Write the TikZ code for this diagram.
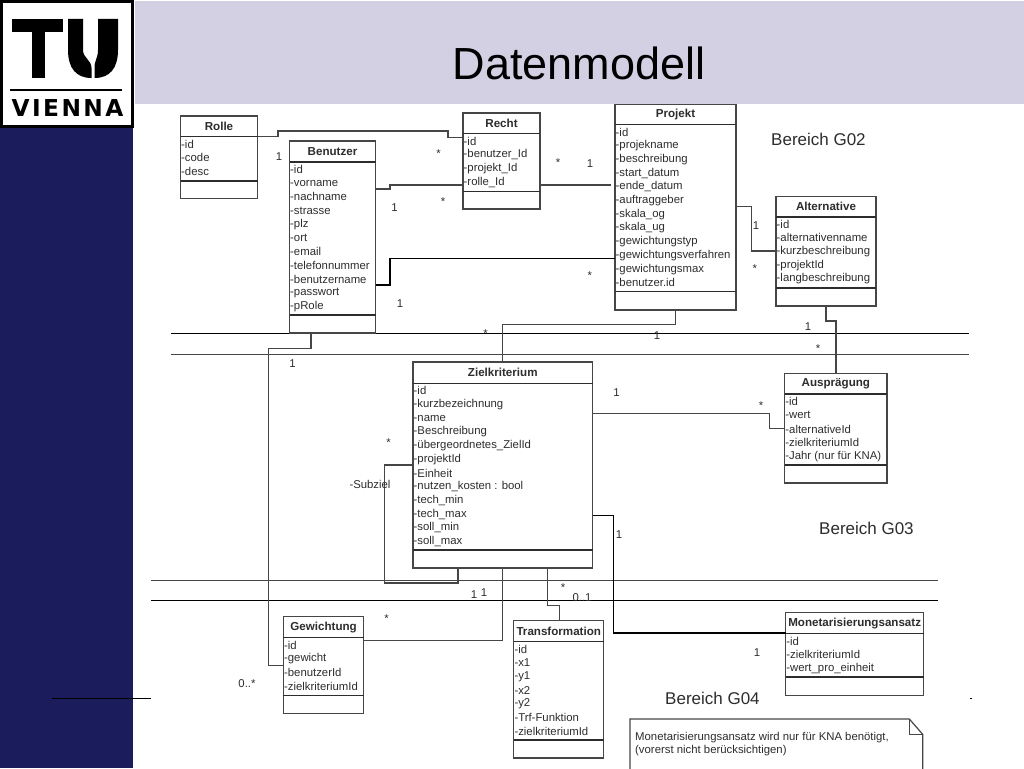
\documentclass[tikz,border=0pt]{standalone}
\usepackage{fontspec}
\setmainfont{Liberation Sans}
\newfontfamily\logofont{DejaVu Sans}
\definecolor{band}{RGB}{211,208,228}
\definecolor{navy}{RGB}{27,28,92}
\definecolor{ink}{RGB}{45,45,45}
\definecolor{wire}{RGB}{70,70,70}
\newcommand{\fs}[1]{\fontsize{#1}{#1}\selectfont}
\tikzset{
  x=1pt,y=-1pt,
  umlbox/.style={draw=wire,line width=1.2pt,fill=white,inner sep=0pt,outer sep=0pt,rectangle},
  sepline/.style={draw=ink,line width=1.1pt},
  classtitle/.style={inner sep=0pt,font=\fs{11.6}\bfseries,text=ink,anchor=center},
  attr/.style={inner sep=0pt,font=\fs{11.35},text=ink,anchor=west},
  conn/.style={draw=wire,line width=1.2pt},
  connk/.style={draw=black,line width=1.1pt},
  mult/.style={inner sep=0pt,font=\fs{11.35},text=ink,anchor=center},
  area/.style={inner sep=0pt,font=\fs{17},text=ink,anchor=west},
  rulek/.style={draw=black,line width=1pt},
  ruleg/.style={draw=wire,line width=1.1pt},
}
% name, x1, y1, x2, y2, header y, separator y, title, attributes
\newcommand{\umlclass}[9]{%
  \node[umlbox,minimum width=#4-#2,minimum height=#5-#3,anchor=north west] (#1) at (#2,#3) {};
  \draw[sepline] (#1.west |- 0,#6) -- (#1.east |- 0,#6);
  \draw[sepline] (#1.west |- 0,#7) -- (#1.east |- 0,#7);
  \node[classtitle] (#1title) at ($(#2,#3)!.5!(#4,#6)$) {#8};
  \umlattrs{#1}{#2}{#9}}
\newcounter{attrn}
\newcommand{\umlattrs}[3]{%
  \setcounter{attrn}{0}%
  \foreach \t in {#3}{%
    \pgfmathsetmacro{\yy}{\firsty+\value{attrn}*13.72}%
    \node[attr] (#1a\arabic{attrn}) at (#2+.5,\yy) {-\t};
    \global\addtocounter{attrn}{1}%
  }}
\usetikzlibrary{calc}
\begin{document}
\begin{tikzpicture}
\useasboundingbox (0,0) rectangle (1024,768);
\fill[white] (0,0) rectangle (1024,768);
\fill[band] (135,1) rectangle (1024,104);
\fill[navy] (0,125) rectangle (133,768);
% logo
\draw[black,line width=3pt,fill=white] (1.5,1.5) rectangle (132.5,126);
\fill[black] (12,19) rectangle (63,32);
\fill[black] (31.5,32) rectangle (45,78);
\fill[black] (68,19) -- (83,19) -- (83,50) .. controls (83,58) and (91.5,60) .. (91.5,68) -- (91.5,78) .. controls (76,78) and (68,68) .. (68,50) -- cycle;
\fill[black] (118,19) -- (118,50) .. controls (118,68) and (110,78) .. (94.5,78) -- (94.5,68) .. controls (94.5,60) and (98,58) .. (98,50) -- (98,19) -- cycle;
\fill[black] (10,89.3) rectangle (122,91);
\node[inner sep=0pt,font=\logofont\fs{23.3}\bfseries,text=black] (vienna) at (67.5,108.5) {\makebox[112pt]{V\hfill I\hfill E\hfill N\hfill N\hfill A}};
\node[inner sep=0pt,font=\fs{45},text=black] (title) at (579,63) {Datenmodell};
% rules
\draw[rulek] (171,333.5) -- (969,333.5);
\draw[ruleg] (171,354.5) -- (969,354.5);
\draw[ruleg] (151,580.5) -- (938,580.5);
\draw[rulek] (151,600.5) -- (938,600.5);
\draw[draw=black,line width=.8pt] (52,698) -- (151,698);
\draw[draw=black,line width=.8pt] (969.5,698) -- (972,698);
% classes
\def\firsty{144}\umlclass{rolle}{180.5}{116}{257.5}{198.5}{136.5}{181}{Rolle}{id,code,desc}
\def\firsty{169.5}\umlclass{benutzer}{289.5}{141}{375.5}{333}{162}{315}{Benutzer}{id,vorname,nachname,strasse,plz,ort,email,telefonnummer,benutzername,passwort,pRole}
\def\firsty{141}\umlclass{recht}{463}{113}{540}{209}{133.5}{191.5}{Recht}{id,benutzer\_Id,projekt\_Id,rolle\_Id}
\def\firsty{132}\umlclass{projekt}{615}{104.5}{736}{310}{124.5}{291.5}{Projekt}{id,projekname,beschreibung,start\_datum,ende\_datum,auftraggeber,skala\_og,skala\_ug,gewichtungstyp,gewichtungsverfahren,gewichtungsmax,benutzer.id}
\def\firsty{224}\umlclass{alternative}{776}{196.5}{876}{306}{217}{288}{Alternative}{id,alternativenname,kurzbeschreibung,projektId,langbeschreibung}
\def\firsty{390.7}\umlclass{ziel}{413}{362}{592.5}{568}{383.3}{550}{Zielkriterium}{id,kurzbezeichnung,name,Beschreibung,übergeordnetes\_ZielId,projektId,Einheit,nutzen\_kosten : bool,tech\_min,tech\_max,soll\_min,soll\_max}
\def\firsty{401.5}\umlclass{auspraegung}{784.7}{373.3}{887}{483}{394}{465}{Ausprägung}{id,wert,alternativeId,zielkriteriumId,Jahr (nur für KNA)}
\def\firsty{645}\umlclass{gewichtung}{283.4}{616.7}{363.8}{713.3}{637.5}{695.5}{Gewichtung}{id,gewicht,benutzerId,zielkriteriumId}
\def\firsty{649}\umlclass{transformation}{513.8}{620.7}{603.7}{758}{641.5}{740}{Transformation}{id,x1,y1,x2,y2,Trf-Funktion,zielkriteriumId}
\def\firsty{641}\umlclass{monetar}{785.7}{612.7}{923.7}{695.3}{633.5}{677}{Monetarisierungsansatz}{id,zielkriteriumId,wert\_pro\_einheit}
% connectors
\draw[conn] (rolle.east |- 0,136.5) -- (278,136.5) -- (278,131) -- (448,131) -- (448,137.3) -- (recht.west |- 0,137.3);
\draw[conn] (benutzer.east |- 0,189) -- (390,189) -- (390,185) -- (recht.west |- 0,185);
\coordinate (rechtend) at (611,185);
\draw[conn] (recht.east |- 0,185) -- (rechtend);
\draw[connk] (benutzer.east |- 0,285) -- (390,285) -- (390,258.5) -- (projekt.west |- 0,258.5);
\draw[conn] (projekt.east |- 0,206.7) -- (751.5,206.7) -- (751.5,251) -- (alternative.west |- 0,251);
\draw[conn] (675.7,0 |- projekt.south) -- (675.7,324.3) -- (502.7,324.3) -- (502.7,0 |- ziel.north);
\draw[conn] (826,0 |- alternative.south) -- (826,321) -- (836,321) -- (836,0 |- auspraegung.north);
\draw[conn] (ziel.east |- 0,413.5) -- (769.4,413.5) -- (769.4,428.3) -- (auspraegung.west |- 0,428.3);
\draw[connk] (ziel.east |- 0,515.7) -- (613.2,515.7) -- (613.2,633) -- (monetar.west |- 0,633);
\draw[conn] (ziel.west |- 0,465) -- (384.8,465) -- (384.8,583) -- (457.9,583) -- (457.9,0 |- ziel.south);
\draw[conn] (502.6,0 |- ziel.south) -- (502.6,640.7) -- (gewichtung.east |- 0,640.7);
\draw[conn] (547.4,0 |- ziel.south) -- (547.4,605.7) -- (559.3,605.7) -- (559.3,0 |- transformation.north);
\draw[conn] (311,0 |- benutzer.south) -- (311,348.5) -- (268.5,348.5) -- (268.5,665.3) -- (gewichtung.west |- 0,665.3);
% multiplicities
\node[mult] (m1) at (279,157) {1};
\node[mult] (m2) at (394.5,208) {1};
\node[mult] (m3) at (438.5,154) {*};
\node[mult] (m4) at (443,202) {*};
\node[mult] (m5) at (558,162.5) {*};
\node[mult] (m6) at (590,164) {1};
\node[mult] (m7) at (589.7,276) {*};
\node[mult] (m8) at (400,304) {1};
\node[mult] (m9) at (756,226) {1};
\node[mult] (m10) at (754.7,269) {*};
\node[mult] (m11) at (808,327) {1};
\node[mult] (m12) at (818,348.5) {*};
\node[mult] (m13) at (485.7,334) {*};
\node[mult] (m14) at (657,335.5) {1};
\node[mult] (m15) at (616.5,393) {1};
\node[mult] (m16) at (761,406) {*};
\node[mult] (m17) at (388.5,442.5) {*};
\node[mult] (m18) at (370,484) {-Subziel};
\node[mult] (m19) at (619,535) {1};
\node[mult] (m20) at (292.5,364) {1};
\node[mult] (m21) at (563,588) {*};
\node[mult] (m22) at (582,598) {0..1};
\node[mult] (m23) at (474,595) {1};
\node[mult] (m24) at (484,593) {1};
\node[mult] (m25) at (386.5,619) {*};
\node[mult] (m26) at (247,684) {0..*};
\node[mult] (m27) at (757,652.5) {1};
% areas
\node[area] (g02) at (771,139) {Bereich G02};
\node[area] (g03) at (819,528) {Bereich G03};
\node[area] (g04) at (665,698) {Bereich G04};
% note
\draw[draw=wire,line width=1.2pt,fill=white] (630,769) -- (630,719) -- (909.3,719) -- (922.7,734.3) -- (922.7,769);
\draw[draw=wire,line width=1.2pt] (909.3,719) -- (909.3,734.3) -- (922.7,734.3);
\node[attr] (n1) at (635,737.5) {Monetarisierungsansatz wird nur für KNA benötigt,};
\node[attr] (n2) at (635,750.5) {(vorerst nicht berücksichtigen)};
\end{tikzpicture}
\end{document}
